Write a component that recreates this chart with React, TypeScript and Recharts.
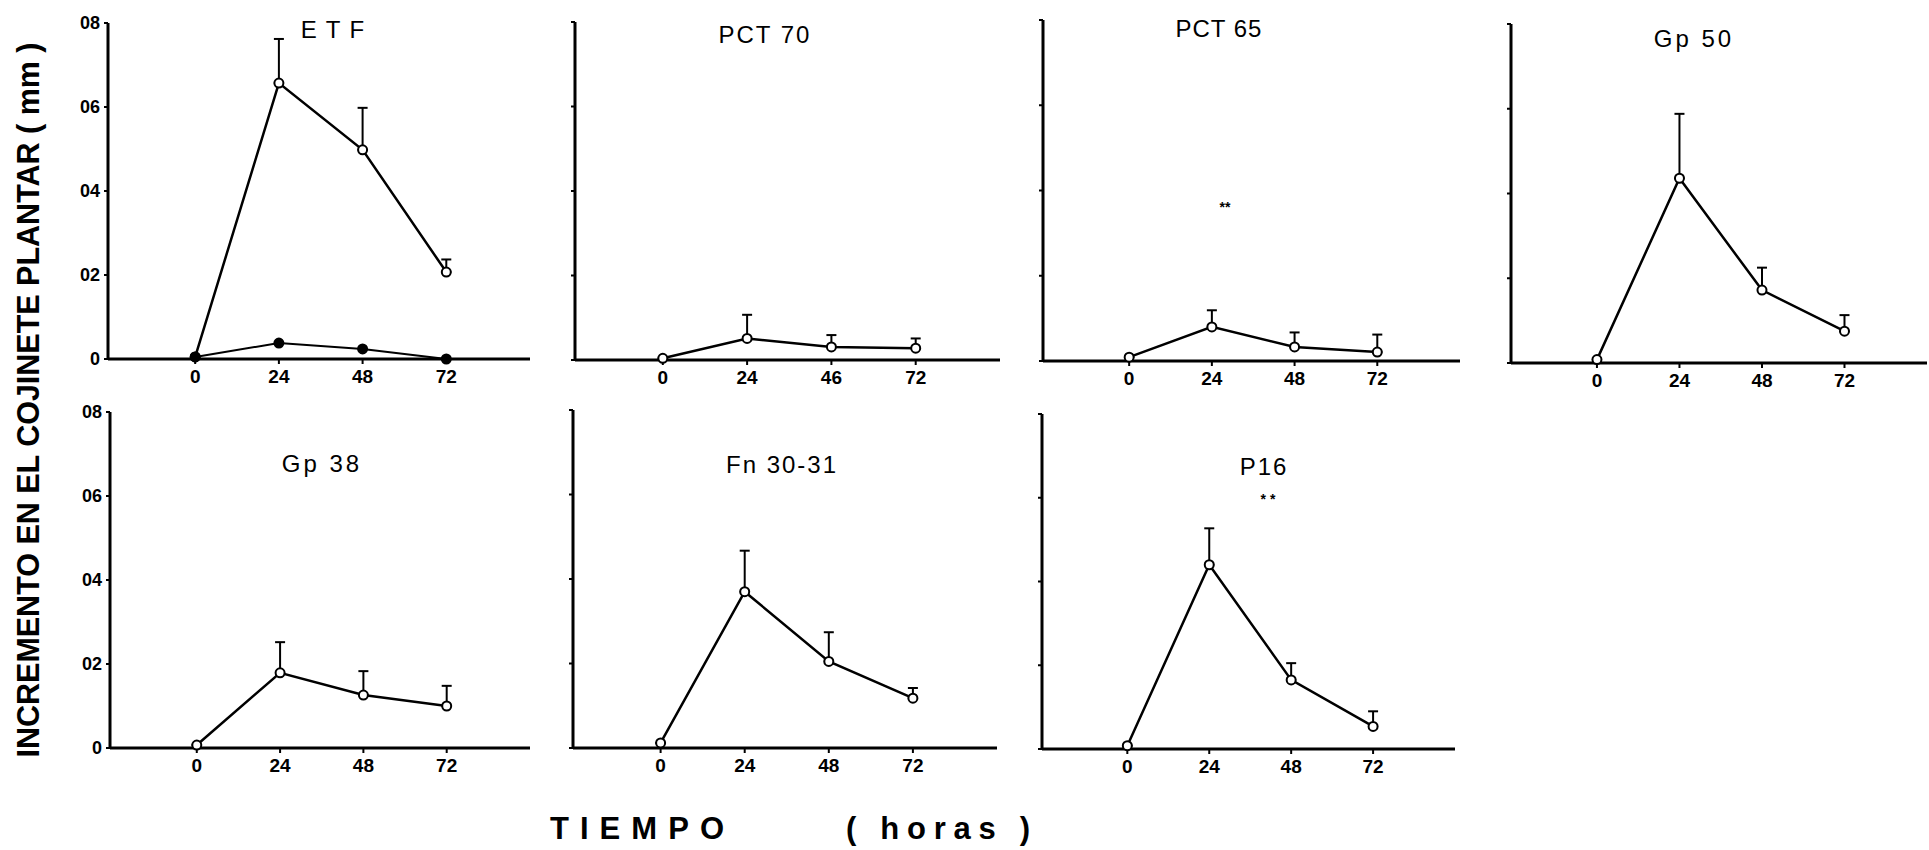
import { ErrorBar, Line, LineChart, XAxis, YAxis } from 'recharts'

// time points (hours) and values (mm)
const hours = [0, 24, 48, 72]

const etfOpen = [0.005, 0.657, 0.498, 0.207]
const etfOpenErr = [0, 0.105, 0.1, 0.03]
const etfFilled = [0.005, 0.038, 0.024, 0]

const pct70 = [0.004, 0.051, 0.031, 0.028]
const pct70Err = [0, 0.056, 0.028, 0.023]

const pct65 = [0.009, 0.08, 0.033, 0.021]
const pct65Err = [0, 0.039, 0.034, 0.041]

const gp50 = [0.008, 0.436, 0.172, 0.075]
const gp50Err = [0, 0.152, 0.053, 0.038]

const gp38 = [0.007, 0.179, 0.126, 0.1]
const gp38Err = [0, 0.073, 0.057, 0.048]

const fn3031 = [0.012, 0.37, 0.205, 0.118]
const fn3031Err = [0, 0.097, 0.069, 0.024]

const p16 = [0.008, 0.44, 0.165, 0.054]
const p16Err = [0, 0.087, 0.04, 0.036]

const yTicks = [0, 0.2, 0.4, 0.6, 0.8]
const yTickLabels = ['0', '02', '04', '06', '08']
const xTickLabels = ['0', '24', '48', '72']
const xTickLabelsPct70 = ['0', '24', '46', '72']

type Series = { values: number[]; errors?: number[]; filled?: boolean }
type Panel = { title: string; series: Series[]; xLabels: string[]; note?: string }

const panels: Panel[] = [
  { title: 'ETF', series: [{ values: etfOpen, errors: etfOpenErr }, { values: etfFilled, filled: true }], xLabels: xTickLabels },
  { title: 'PCT 70', series: [{ values: pct70, errors: pct70Err }], xLabels: xTickLabelsPct70 },
  { title: 'PCT 65', series: [{ values: pct65, errors: pct65Err }], xLabels: xTickLabels, note: '**' },
  { title: 'Gp 50', series: [{ values: gp50, errors: gp50Err }], xLabels: xTickLabels },
  { title: 'Gp 38', series: [{ values: gp38, errors: gp38Err }], xLabels: xTickLabels },
  { title: 'Fn 30-31', series: [{ values: fn3031, errors: fn3031Err }], xLabels: xTickLabels },
  { title: 'P16', series: [{ values: p16, errors: p16Err }], xLabels: xTickLabels, note: '* *' },
]

// layout: y-axis x, top (0.8) and bottom (0) of each plot, plot width, title & note centres
const layout = [
  { x: 108, top: 23, bottom: 359, w: 422, tx: 337, ty: 29, showY: true, spacing: 9 },
  { x: 575, top: 22, bottom: 360, w: 425, tx: 765, ty: 34, showY: false, spacing: 2 },
  { x: 1043, top: 20, bottom: 361, w: 417, tx: 1219, ty: 28, showY: false, spacing: 1, nx: 1225, ny: 207 },
  { x: 1511, top: 24, bottom: 363, w: 416, tx: 1694, ty: 38, showY: false, spacing: 3 },
  { x: 110, top: 412, bottom: 748, w: 420, tx: 322, ty: 463, showY: true, spacing: 3 },
  { x: 573, top: 410, bottom: 748, w: 424, tx: 782, ty: 464, showY: false, spacing: 2 },
  { x: 1042, top: 414, bottom: 749, w: 413, tx: 1264, ty: 466, showY: false, spacing: 2, nx: 1268, ny: 499 },
]

const FONT = '"Liberation Sans", Arial, sans-serif'
const Y_AXIS_W = 60
const TOP_PAD = 12
const X_AXIS_H = 40

function SmallPanel({ panel, box }: { panel: Panel; box: (typeof layout)[number] }) {
  const rows = hours.map((h, i) => {
    const row: Record<string, unknown> = { h }
    panel.series.forEach((s, k) => {
      row[`v${k}`] = s.values[i]
      if (s.errors) row[`e${k}`] = [0, s.errors[i]]
    })
    return row
  })
  const width = Y_AXIS_W + box.w + 2
  const height = TOP_PAD + (box.bottom - box.top) + X_AXIS_H
  const left = box.x - Y_AXIS_W
  const top = box.top - TOP_PAD

  return (
    <div style={{ position: 'absolute', left, top, width, height }}>
      <LineChart width={width} height={height} data={rows} margin={{ top: TOP_PAD, right: 2, bottom: 0, left: 0 }}>
        <XAxis
          dataKey="h"
          type="number"
          domain={[-25, 96]}
          ticks={hours}
          allowDataOverflow
          height={X_AXIS_H}
          tickSize={5}
          tickMargin={6}
          tickFormatter={(v: number) => panel.xLabels[hours.indexOf(v)] ?? ''}
          axisLine={{ stroke: '#000', strokeWidth: 3 }}
          tickLine={{ stroke: '#000', strokeWidth: 2 }}
          tick={{ fill: '#000', fontSize: 19, fontWeight: 700, fontFamily: FONT }}
        />
        <YAxis
          type="number"
          domain={[0, 0.8]}
          ticks={yTicks}
          width={Y_AXIS_W}
          tickSize={4}
          tickMargin={4}
          tickFormatter={(v: number) => (box.showY ? yTickLabels[yTicks.indexOf(v)] : '')}
          axisLine={{ stroke: '#000', strokeWidth: 3 }}
          tickLine={{ stroke: '#000', strokeWidth: 2 }}
          tick={{ fill: '#000', fontSize: 18, fontWeight: 700, fontFamily: FONT }}
        />
        {panel.series.map((s, k) => (
          <Line
            key={k}
            dataKey={`v${k}`}
            type="linear"
            stroke="#000"
            strokeWidth={s.filled ? 2 : 2.5}
            dot={{ r: 4.5, fill: s.filled ? '#000' : '#fff', stroke: '#000', strokeWidth: 2 }}
            isAnimationActive={false}
          >
            {s.errors && <ErrorBar dataKey={`e${k}`} direction="y" width={5} stroke="#000" strokeWidth={2} />}
          </Line>
        ))}
        <text
          x={box.tx - left}
          y={box.ty - top}
          textAnchor="middle"
          dominantBaseline="central"
          fontFamily={FONT}
          fontSize={24}
          letterSpacing={box.spacing}
          fill="#000"
        >
          {panel.title}
        </text>
        {panel.note && box.nx !== undefined && box.ny !== undefined && (
          <text
            x={box.nx - left}
            y={box.ny - top}
            textAnchor="middle"
            dominantBaseline="central"
            fontFamily={FONT}
            fontSize={14}
            fontWeight={700}
            fill="#000"
          >
            {panel.note}
          </text>
        )}
      </LineChart>
    </div>
  )
}

export default function App() {
  return (
    <div style={{ position: 'absolute', left: 0, top: 0, width: 1929, height: 850, background: '#fff', overflow: 'hidden' }}>
      <svg width={1929} height={850} style={{ position: 'absolute', left: 0, top: 0 }}>
        <text
          transform="translate(28, 400) rotate(-90)"
          textAnchor="middle"
          dominantBaseline="central"
          fontFamily={FONT}
          fontSize={31}
          fontWeight={700}
          textLength={715}
          lengthAdjust="spacingAndGlyphs"
          fill="#000"
        >
          INCREMENTO EN EL COJINETE PLANTAR ( mm )
        </text>
        <text x={550} y={828} dominantBaseline="central" fontFamily={FONT} fontSize={31} fontWeight={700} textLength={174} lengthAdjust="spacing" fill="#000">
          TIEMPO
        </text>
        <text x={846} y={828} dominantBaseline="central" fontFamily={FONT} fontSize={31} fontWeight={700} textLength={184} lengthAdjust="spacing" fill="#000">
          ( horas )
        </text>
      </svg>
      {panels.map((panel, i) => (
        <SmallPanel key={panel.title} panel={panel} box={layout[i]} />
      ))}
    </div>
  )
}
